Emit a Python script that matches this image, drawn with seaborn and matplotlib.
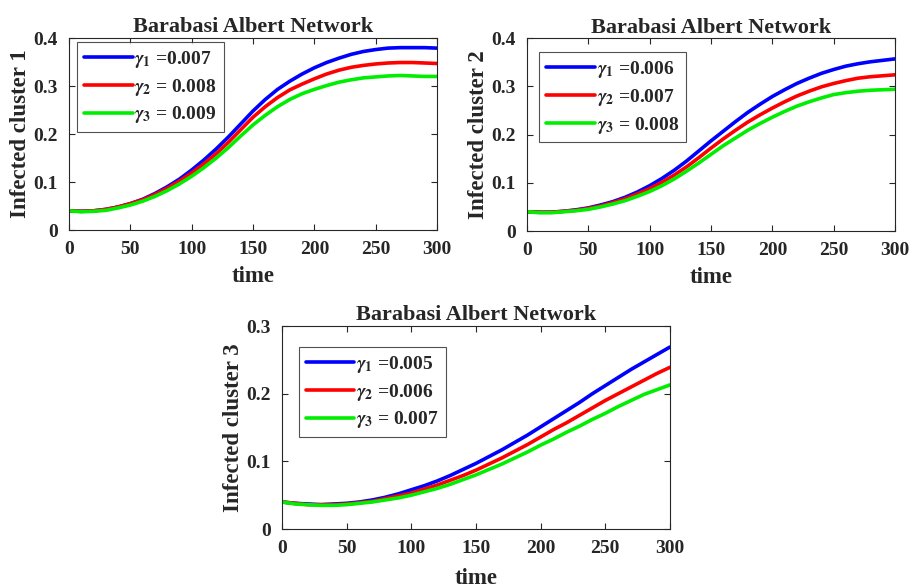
import matplotlib
matplotlib.use("Agg")
import matplotlib.pyplot as plt
import seaborn as sns
import pandas as pd

sns.set_style("ticks")
plt.rcParams['font.family'] = ['Liberation Serif', 'DejaVu Serif']
plt.rcParams['font.weight'] = 'bold'
plt.rcParams['mathtext.fontset'] = 'stix'

time = list(range(0, 301, 10))

c1_g1 = [0.040, 0.039, 0.040, 0.043, 0.048, 0.055, 0.064, 0.076, 0.090, 0.106, 0.125, 0.146, 0.169, 0.194, 0.221,
         0.248, 0.272, 0.293, 0.310, 0.325, 0.338, 0.349, 0.358, 0.366, 0.372, 0.376, 0.379, 0.380, 0.380, 0.380, 0.379]
c1_g2 = [0.040, 0.039, 0.040, 0.043, 0.048, 0.055, 0.063, 0.074, 0.087, 0.102, 0.119, 0.138, 0.159, 0.183, 0.209,
         0.235, 0.257, 0.276, 0.292, 0.304, 0.315, 0.325, 0.333, 0.339, 0.343, 0.346, 0.348, 0.349, 0.349, 0.348, 0.347]
c1_g3 = [0.040, 0.038, 0.039, 0.041, 0.046, 0.052, 0.060, 0.070, 0.082, 0.096, 0.112, 0.130, 0.150, 0.172, 0.196,
         0.219, 0.239, 0.257, 0.272, 0.284, 0.293, 0.301, 0.308, 0.313, 0.317, 0.319, 0.321, 0.322, 0.321, 0.320, 0.320]

c2_g1 = [0.040, 0.039, 0.039, 0.041, 0.044, 0.048, 0.054, 0.061, 0.070, 0.081, 0.094, 0.109, 0.126, 0.145, 0.166,
         0.187, 0.207, 0.227, 0.246, 0.263, 0.279, 0.293, 0.306, 0.317, 0.327, 0.335, 0.342, 0.347, 0.351, 0.354, 0.357]
c2_g2 = [0.040, 0.039, 0.039, 0.041, 0.043, 0.047, 0.052, 0.059, 0.067, 0.077, 0.088, 0.101, 0.116, 0.133, 0.152,
         0.172, 0.191, 0.209, 0.226, 0.241, 0.255, 0.268, 0.280, 0.290, 0.299, 0.306, 0.312, 0.317, 0.320, 0.322, 0.324]
c2_g3 = [0.040, 0.038, 0.038, 0.040, 0.042, 0.045, 0.050, 0.056, 0.063, 0.072, 0.082, 0.094, 0.108, 0.124, 0.141,
         0.159, 0.177, 0.193, 0.209, 0.223, 0.236, 0.248, 0.259, 0.268, 0.276, 0.283, 0.287, 0.290, 0.292, 0.293, 0.294]

c3_g1 = [0.040, 0.038, 0.037, 0.036, 0.037, 0.038, 0.040, 0.043, 0.047, 0.052, 0.058, 0.064, 0.071, 0.079, 0.088,
         0.097, 0.107, 0.117, 0.128, 0.139, 0.151, 0.163, 0.175, 0.187, 0.200, 0.212, 0.224, 0.236, 0.247, 0.258, 0.269]
c3_g2 = [0.040, 0.038, 0.036, 0.036, 0.036, 0.037, 0.039, 0.041, 0.045, 0.049, 0.053, 0.059, 0.065, 0.072, 0.079,
         0.087, 0.096, 0.105, 0.115, 0.125, 0.136, 0.147, 0.157, 0.168, 0.179, 0.190, 0.200, 0.210, 0.220, 0.230, 0.239]
c3_g3 = [0.040, 0.037, 0.036, 0.035, 0.035, 0.036, 0.038, 0.040, 0.043, 0.046, 0.050, 0.055, 0.060, 0.066, 0.073,
         0.080, 0.088, 0.096, 0.105, 0.114, 0.124, 0.133, 0.143, 0.152, 0.162, 0.171, 0.181, 0.190, 0.199, 0.206, 0.213]

labels1 = [r'$\gamma_1$ =0.007', r'$\gamma_2$ = 0.008', r'$\gamma_3$ = 0.009']
labels2 = [r'$\gamma_1$ =0.006', r'$\gamma_2$ =0.007', r'$\gamma_3$ = 0.008']
labels3 = [r'$\gamma_1$ =0.005', r'$\gamma_2$ =0.006', r'$\gamma_3$ = 0.007']

title = "Barabasi Albert Network"
ylabels = ["Infected cluster 1", "Infected cluster 2", "Infected cluster 3"]
yticks1 = [0, 0.1, 0.2, 0.3, 0.4]
yticks3 = [0, 0.1, 0.2, 0.3]
xticks = [0, 50, 100, 150, 200, 250, 300]
colors = ["#0000ff", "#ff0000", "#00ee00"]

fig = plt.figure(figsize=(9.14, 5.88), dpi=100)
ax1 = fig.add_axes([0.0755, 0.6088, 0.4026, 0.3265])
ax2 = fig.add_axes([0.5766, 0.6071, 0.4026, 0.3280])
ax3 = fig.add_axes([0.3085, 0.1003, 0.4245, 0.3452])

def tick_fmt(v):
    return "0" if v == 0 else f"{v:.1f}"

def draw(ax, series, labels, ylabel, yticks, ylim, anchor, xlabelpad):
    frames = []
    for s, lab in zip(series, labels):
        frames.append(pd.DataFrame({"time": time, "value": s, "series": lab}))
    df = pd.concat(frames, ignore_index=True)
    sns.lineplot(data=df, x="time", y="value", hue="series", hue_order=labels,
                 palette=colors, linewidth=2.6, ax=ax, legend=False)
    ax.set_xlim(0, 300)
    ax.set_ylim(*ylim)
    ax.set_xticks(xticks)
    ax.set_xticklabels([str(x) for x in xticks], fontsize=14, fontweight='bold')
    ax.set_yticks(yticks)
    ax.set_yticklabels([tick_fmt(y) for y in yticks], fontsize=14, fontweight='bold')
    ax.tick_params(direction='in', top=True, right=True, length=4, width=0.8, colors='#262626')
    ax.tick_params(axis='x', pad=8)
    ax.tick_params(axis='y', pad=8)
    for sp in ax.spines.values():
        sp.set_linewidth(0.8)
        sp.set_color('#262626')
    ax.set_xlabel("time", fontsize=16.5, fontweight='bold', labelpad=xlabelpad)
    ax.set_ylabel(ylabel, fontsize=16.5, fontweight='bold', labelpad=1.5)
    ax.set_title(title, fontsize=16, fontweight='bold', pad=4)
    handles = ax.get_lines()[:3]
    leg = ax.legend(handles, labels, loc='upper left', bbox_to_anchor=anchor,
                    prop={'weight': 'bold', 'size': 14},
                    frameon=True, fancybox=False, handlelength=2.5, handletextpad=0.1,
                    borderpad=0.35, labelspacing=0.35, borderaxespad=0.0)
    leg.get_frame().set_edgecolor('#262626')
    leg.get_frame().set_linewidth(0.8)
    return leg

draw(ax1, [c1_g1, c1_g2, c1_g3], labels1, ylabels[0], yticks1, (0, 0.4), (0.022, 0.979), 6)
draw(ax2, [c2_g1, c2_g2, c2_g3], labels2, ylabels[1], yticks1, (0, 0.4), (0.033, 0.927), 6)
draw(ax3, [c3_g1, c3_g2, c3_g3], labels3, ylabels[2], yticks3, (0, 0.3), (0.044, 0.897), 8)

fig.savefig("out.png", dpi=100)
